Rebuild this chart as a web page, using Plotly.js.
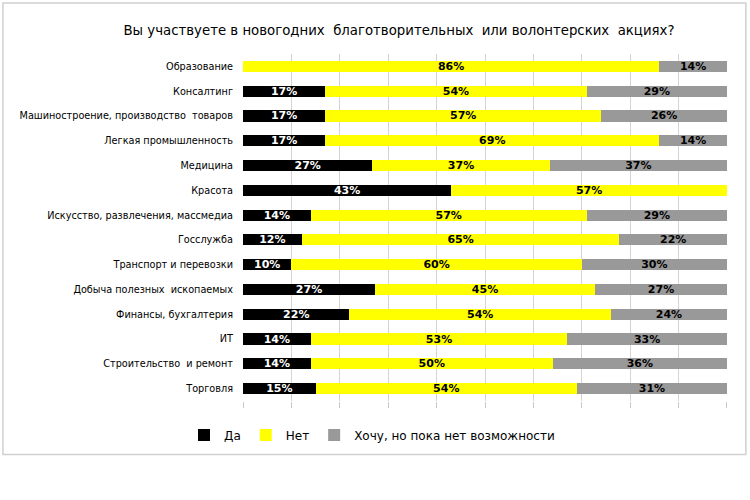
<!DOCTYPE html>
<html><head><meta charset="utf-8">
<script src="https://cdn.plot.ly/plotly-3.0.1.min.js"></script>
<style>html,body{margin:0;padding:0;background:#fff}#chart{width:750px;height:500px}</style>
</head><body><div id="chart"></div>
<script>
const categories = ["Образование","Консалтинг","Машиностроение, производство  товаров","Легкая промышленность","Медицина","Красота","Искусство, развлечения, массмедиа","Госслужба","Транспорт и перевозки","Добыча полезных  ископаемых","Финансы, бухгалтерия","ИТ","Строительство  и ремонт","Торговля"];
const yes   = [0,17,17,17,27,43,14,12,10,27,22,14,14,15];
const no    = [86,54,57,69,37,57,57,65,60,45,54,53,50,54];
const want  = [14,29,26,14,37,0,29,22,30,27,24,33,36,31];
const seriesNames = ["Да","Нет","Хочу, но пока нет возможности"];
const titleText = "Вы участвуете в новогодних  благотворительных  или волонтерских  акциях?";

const lbl = v => v.map(x => x > 0 ? x + "%" : "");
function mk(vals, name, color, tcolor){
  return {type:'bar', orientation:'h', y:categories, x:vals, name:name,
    marker:{color:color}, text:lbl(vals), textposition:'inside', insidetextanchor:'middle',
    textangle:0, constraintext:'none', cliponaxis:false,
    textfont:{family:'DejaVu Sans', size:11, color:tcolor, weight:'bold'}, hoverinfo:'skip'};
}
const data = [mk(yes,seriesNames[0],'#000000','#ffffff'), mk(no,seriesNames[1],'#ffff00','#000000'), mk(want,seriesNames[2],'#999999','#000000')];
const layout = {
  width:750, height:500, barmode:'stack', barnorm:'percent', bargap:0.55,
  margin:{l:243, r:23, t:54, b:99},
  paper_bgcolor:'#fff', plot_bgcolor:'#fff',
  font:{family:'DejaVu Sans', color:'#000'},
  title:{text:titleText, font:{family:'DejaVu Sans', size:13.3, color:'#000'}, xref:'container', yref:'container', x:0.532, xanchor:'center', y:0.94, yanchor:'middle'},
  xaxis:{range:[0,100.002], tickvals:[0,10,20,30,40,50,60,70,80,90,100], showticklabels:false, ticks:'outside', ticklen:6, tickcolor:'#c8c8c8', gridcolor:'#d4d4d4', zeroline:false, showline:false, fixedrange:true},
  yaxis:{autorange:'reversed', tickfont:{family:'DejaVu Sans', size:9.7, color:'#000'}, ticks:'', showgrid:false, ticklabelstandoff:9, showline:false, zeroline:false},
  showlegend:true,
  legend:{orientation:'h', xref:'container', yref:'container', x:0.496, xanchor:'center', y:0.13, yanchor:'middle', font:{family:'DejaVu Sans', size:12, color:'#000'}, itemwidth:30, traceorder:'normal'},
  shapes:[{type:'rect', xref:'paper', yref:'paper', x0:-0.496, x1:1.039, y0:-0.154, y1:1.147, line:{color:'#d0d0d0', width:1.5}, fillcolor:'rgba(0,0,0,0)', layer:'below'}]
};
Plotly.newPlot('chart', data, layout, {displayModeBar:false, staticPlot:true});
</script></body></html>
